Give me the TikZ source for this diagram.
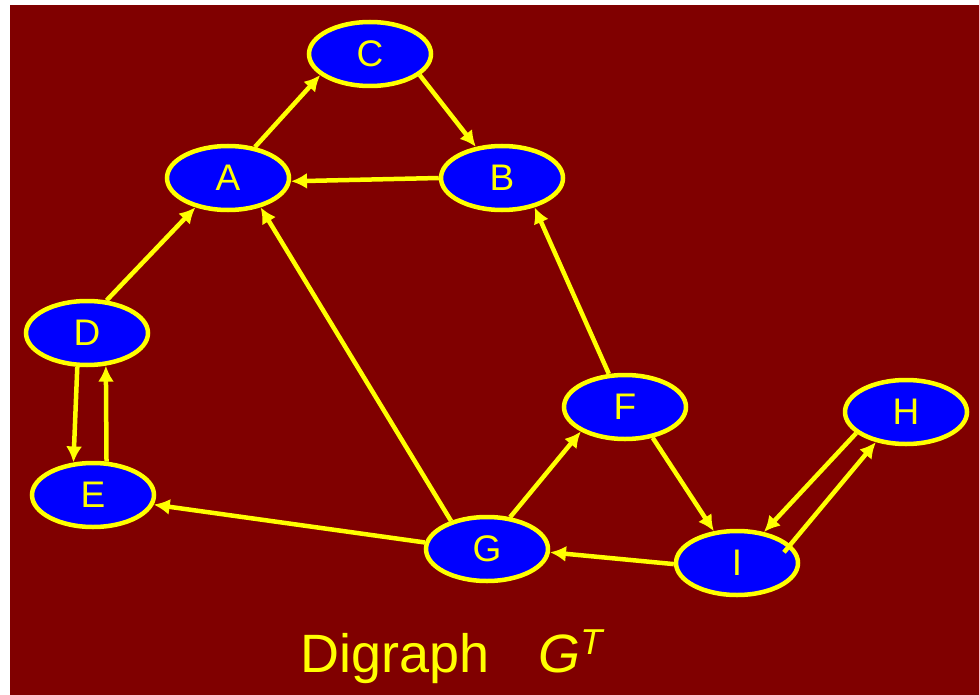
\documentclass[tikz,border=0pt]{standalone}
\usepackage{fontspec}
\setmainfont{Liberation Sans}
\usepackage{tikz}
\usetikzlibrary{shapes.geometric,arrows.meta,positioning}
\definecolor{bgred}{RGB}{128,0,0}
\definecolor{vblue}{RGB}{0,0,255}
\definecolor{vyellow}{RGB}{255,255,0}
\tikzset{>={Latex[length=16pt,width=16pt]}}
\tikzset{
	vertex/.style={ellipse, draw=vyellow, fill=vblue, line width=4.5pt,
		minimum width=122pt, minimum height=64pt, inner sep=0pt,
		text=vyellow, font=\fontsize{37}{37}\selectfont},
	link/.style={->, draw=vyellow, line width=4.5pt}
}

\begin{document}
\begin{tikzpicture}[x=1pt, y=-1pt]
	\useasboundingbox (0,0) rectangle (979,695);
	\fill[bgred] (10,5) rectangle (979,695);
	
	% vertices
	\node[vertex] (C) at (370,54) {C};
	\node[vertex] (A) at (228,178) {A};
	\node[vertex] (B) at (502,178) {B};
	\node[vertex] (D) at (87,333) {D};
	\node[vertex] (E) at (93,495) {E};
	\node[vertex] (F) at (625,407) {F};
	\node[vertex] (G) at (487,549) {G};
	\node[vertex] (H) at (906,412) {H};
	\node[vertex] (I) at (737,563) {I};
	
	% transposed edges
	\draw[link] (A.49) -- (C.203);
	\draw[link] (C.337) -- (B.130);
	\draw[link] (B.180) -- (A.357);
	\draw[link] (D.59) -- (A.222);
	\draw[link] (G.142) -- (A.318);
	\draw[link] (F.116) -- (B.318);
	\draw[link] (D.254) -- (E.121);
	\draw[link] (E.68) -- (D.300);
	\draw[link] (G.174) -- (E.351);
	\draw[link] (G.54) -- (F.209);
	\draw[link] (F.312) -- (I.126);
	\draw[link] (I.181) -- (G.357);
	\draw[link] (H.203) -- (I.49);
	\draw[link, shorten <=-10pt] (I.19) -- (H.225);
	
	\node[anchor=base west, inner sep=0pt, text=vyellow,
		font=\fontsize{54}{54}\selectfont] (title) at (300,672)
		{Digraph\hspace{49pt}\textit{G}\raisebox{18pt}{\fontsize{36}{36}\selectfont\itshape T}};
\end{tikzpicture}
\end{document}
